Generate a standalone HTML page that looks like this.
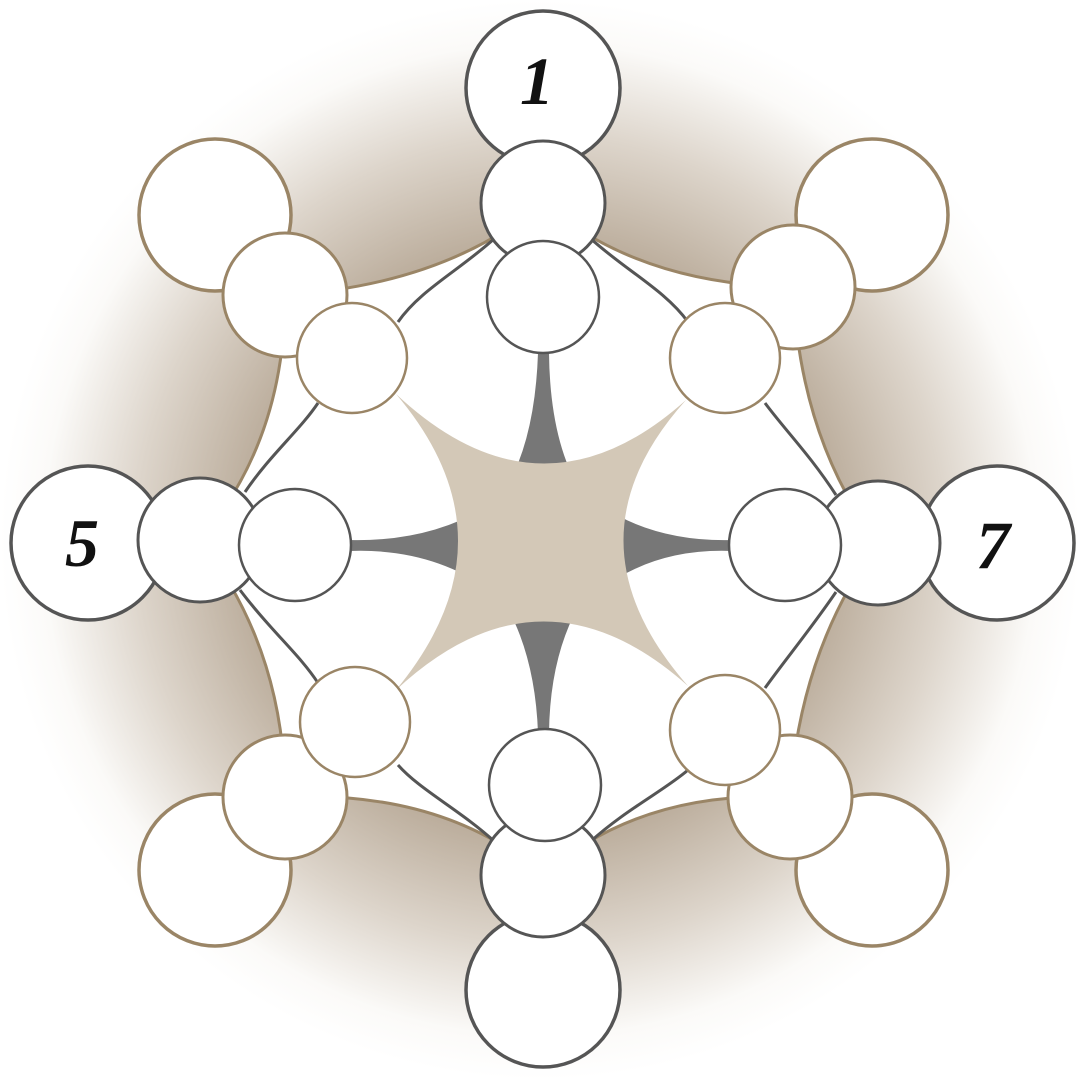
<!DOCTYPE html>
<html><head><meta charset="utf-8"><style>
html,body{margin:0;padding:0;background:#fff}
svg{display:block}
</style></head><body>
<svg width="1080" height="1080" viewBox="0 0 1080 1080" xmlns="http://www.w3.org/2000/svg">
<defs>
<radialGradient id="bg" cx="540" cy="540" r="540" gradientUnits="userSpaceOnUse">
<stop offset="0" stop-color="#b0a18e"/>
<stop offset="0.55" stop-color="#bcae9d"/>
<stop offset="0.75" stop-color="#ddd5cb"/>
<stop offset="0.92" stop-color="#fbfaf8"/>
<stop offset="1" stop-color="#ffffff"/>
</radialGradient>
</defs>
<rect width="1080" height="1080" fill="#fff"/>
<circle cx="540" cy="540" r="540" fill="url(#bg)"/>

<!-- white region -->
<path d="M285,295 Q445,285 543,203 Q640,285 793,287 Q800,440 878,543 Q800,650 790,797 Q640,790 543,875 Q445,790 285,797 Q285,650 200,540 Q285,440 285,295 Z" fill="#fff" stroke="#9a8566" stroke-width="3"/>

<!-- dark connectors -->
<g fill="none" stroke="#555" stroke-width="3">
<path d="M495,238 C460,270 420,290 398,322"/>
<path d="M590,238 C625,270 665,290 688,322"/>
<path d="M245,492 C270,455 300,430 318,403"/>
<path d="M836,495 C810,455 785,430 765,403"/>
<path d="M240,590 C270,630 300,655 318,683"/>
<path d="M836,592 C810,630 785,660 765,688"/>
<path d="M495,842 C460,810 420,790 398,765"/>
<path d="M590,842 C625,810 665,790 688,770"/>
</g>

<!-- dark spikes -->
<g fill="#777">
<path d="M538,353 L549,353 Q550,440 580,490 L505,490 Q535,440 538,353 Z"/>
<path d="M538,733 L549,733 Q550,650 585,595 L500,595 Q535,650 538,733 Z"/>
<path d="M350,540 L350,551 Q430,548 490,590 L490,505 Q430,542 350,540 Z"/>
<path d="M732,540 L732,551 Q655,548 600,590 L600,505 Q655,542 732,540 Z"/>
</g>
<!-- center tan shape -->
<path d="M396,394 Q541,530 686,400 Q560,540 688,686 Q541,555 396,690 Q520,540 396,394 Z" fill="#d3c8b7"/>

<!-- outer circles -->
<g fill="#fff" stroke-width="3.5">
<circle cx="215" cy="215" r="76" stroke="#9a8566"/>
<circle cx="872" cy="215" r="76" stroke="#9a8566"/>
<circle cx="215" cy="870" r="76" stroke="#9a8566"/>
<circle cx="872" cy="870" r="76" stroke="#9a8566"/>
<circle cx="543" cy="88" r="77" stroke="#555"/>
<circle cx="88" cy="543" r="77" stroke="#555"/>
<circle cx="997" cy="543" r="77" stroke="#555"/>
<circle cx="543" cy="990" r="77" stroke="#555"/>
</g>
<g fill="#fff" stroke-width="3">
<circle cx="285" cy="295" r="62" stroke="#9a8566"/>
<circle cx="793" cy="287" r="62" stroke="#9a8566"/>
<circle cx="285" cy="797" r="62" stroke="#9a8566"/>
<circle cx="790" cy="797" r="62" stroke="#9a8566"/>
<circle cx="543" cy="203" r="62" stroke="#555"/>
<circle cx="200" cy="540" r="62" stroke="#555"/>
<circle cx="878" cy="543" r="62" stroke="#555"/>
<circle cx="543" cy="875" r="62" stroke="#555"/>
</g>
<g fill="#fff" stroke-width="2.5">
<circle cx="352" cy="358" r="55" stroke="#9a8566"/>
<circle cx="725" cy="358" r="55" stroke="#9a8566"/>
<circle cx="355" cy="722" r="55" stroke="#9a8566"/>
<circle cx="725" cy="730" r="55" stroke="#9a8566"/>
<circle cx="543" cy="297" r="56" stroke="#555"/>
<circle cx="295" cy="545" r="56" stroke="#555"/>
<circle cx="785" cy="545" r="56" stroke="#555"/>
<circle cx="545" cy="785" r="56" stroke="#555"/>
</g>

<g font-family="'Liberation Serif', serif" font-style="italic" font-weight="bold" font-size="68" fill="#111" text-anchor="middle">
<text x="537" y="104">1</text>
<text x="82" y="566">5</text>
<text x="993" y="568">7</text>
</g>
</svg>
</body></html>
